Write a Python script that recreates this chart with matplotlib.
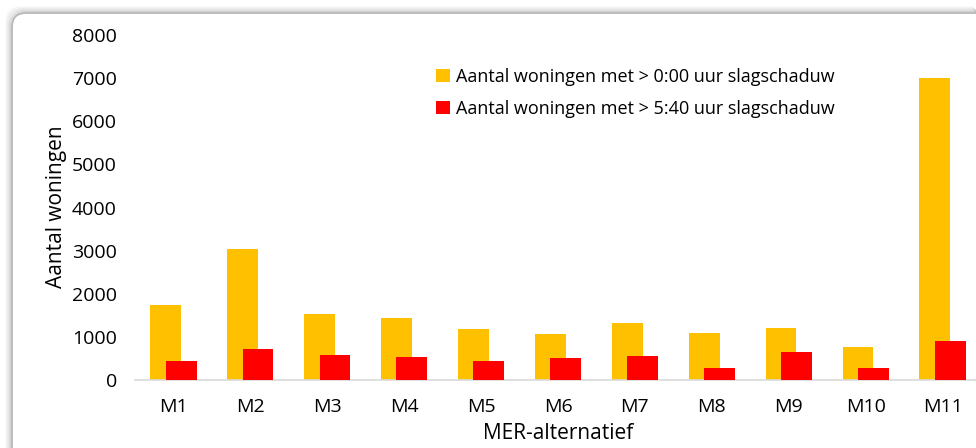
import matplotlib
matplotlib.use("Agg")
import matplotlib.pyplot as plt
from matplotlib.patches import FancyBboxPatch
from matplotlib.transforms import IdentityTransform
import numpy as np

plt.rcParams['font.family'] = ['Open Sans', 'DejaVu Sans']

categories = ["M1", "M2", "M3", "M4", "M5", "M6", "M7", "M8", "M9", "M10", "M11"]
woningen_0_00 = [1750, 3040, 1540, 1440, 1180, 1070, 1320, 1090, 1210, 760, 7000]
woningen_5_40 = [430, 720, 570, 530, 430, 500, 550, 270, 650, 270, 900]
series_labels = ["Aantal woningen met > 0:00 uur slagschaduw",
                 "Aantal woningen met > 5:40 uur slagschaduw"]
y_ticks = [0, 1000, 2000, 3000, 4000, 5000, 6000, 7000, 8000]

W, H = 976, 448
fig = plt.figure(figsize=(W / 100, H / 100), dpi=100)
fig.patch.set_facecolor("white")

# rounded frame with a soft shadow towards the top-left
for i, a in enumerate([0.12, 0.09, 0.07, 0.05, 0.035, 0.02]):
    sh = FancyBboxPatch((12 - i - 1, -20), 980, H - 13 + 20 + i + 1,
                        boxstyle="round,pad=0,rounding_size=14",
                        transform=IdentityTransform(), facecolor="none",
                        edgecolor="black", alpha=a, linewidth=1.2, zorder=0)
    fig.patches.append(sh)
frame = FancyBboxPatch((12, -20), 980, H - 13 + 20,
                       boxstyle="round,pad=0,rounding_size=14",
                       transform=IdentityTransform(), facecolor="white",
                       edgecolor="#b8b8b8", linewidth=1.3, zorder=1)
fig.patches.append(frame)

ax = fig.add_axes([135 / W, 68 / H, (981 - 135) / W, (380 - 35) / H])
ax.set_facecolor("none")
ax.set_zorder(2)

x = np.arange(len(categories))
bw = 0.4
ax.bar(x - 0.1, woningen_0_00, width=bw, color="#FFC000", label=series_labels[0], zorder=2)
ax.bar(x + 0.1, woningen_5_40, width=bw, color="#FF0000", label=series_labels[1], zorder=3)

ax.set_xlim(-0.5, len(categories) - 0.5)
ax.set_ylim(0, 8000)
ax.set_yticks(y_ticks)
ax.set_xticks(x)
ax.set_xticklabels(categories)
for s in ["top", "right", "left"]:
    ax.spines[s].set_visible(False)
ax.spines["bottom"].set_color("#d9d9d9")
ax.spines["bottom"].set_linewidth(1.2)
ax.tick_params(axis="both", length=0, labelsize=14, colors="black")
ax.tick_params(axis="y", pad=13)
ax.tick_params(axis="x", pad=13)

ax.set_ylabel("Aantal woningen", fontsize=15)
ax.set_xlabel("MER-alternatief", fontsize=15)
ax.xaxis.set_label_coords((558 - 135) / (981 - 135), -(423 - 380) / 345)
ax.yaxis.set_label_coords(-(135 - 67) / (981 - 135), (380 - 207) / 345)

leg = ax.legend(loc="upper left", bbox_to_anchor=(436 / W, (H - 68) / H),
                bbox_transform=fig.transFigure, frameon=False, fontsize=13,
                handlelength=0.75, handleheight=0.75, handletextpad=0.35,
                labelspacing=0.78, borderpad=0, borderaxespad=0)

fig.savefig("out.png", dpi=100)
